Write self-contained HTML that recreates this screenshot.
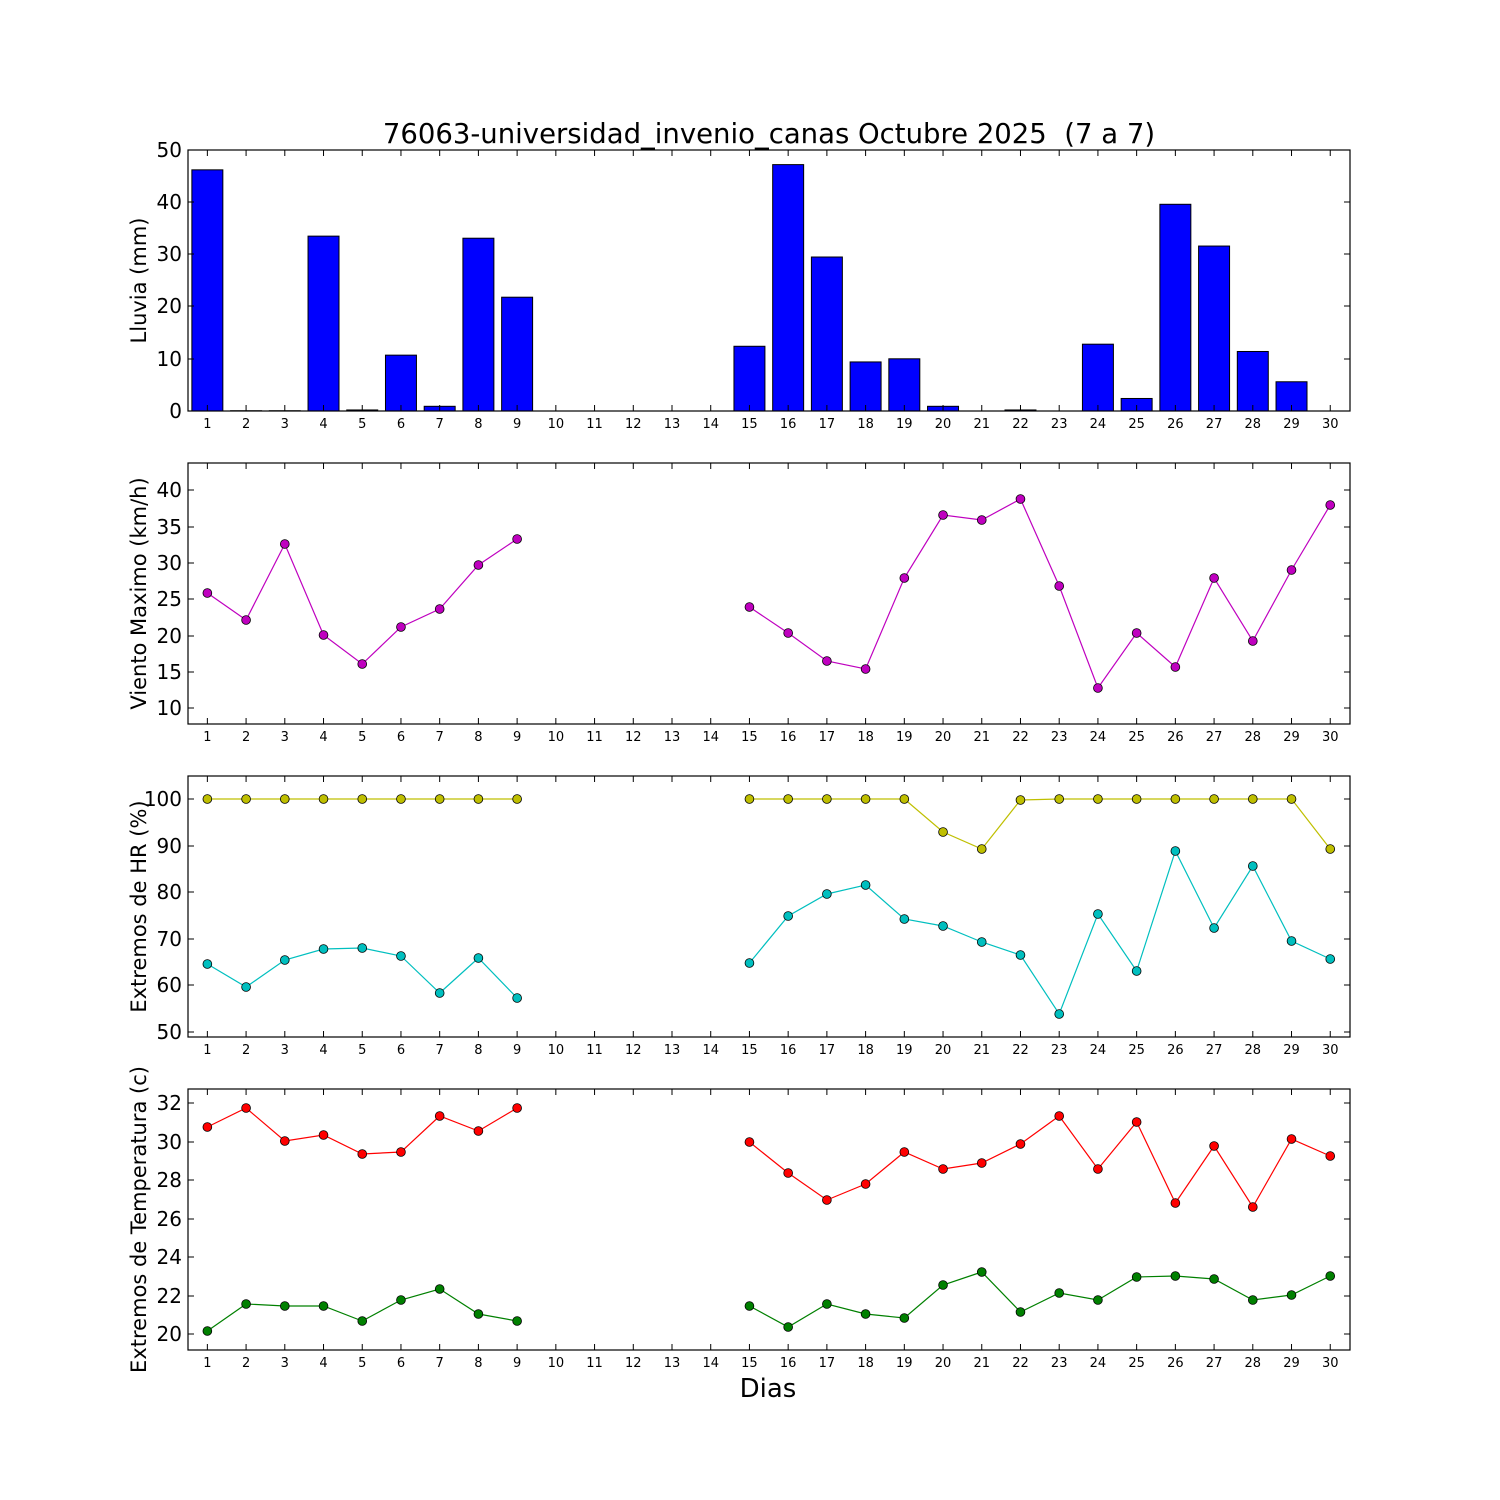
<!DOCTYPE html>
<html><head><meta charset="utf-8"><style>
html,body{margin:0;padding:0;background:#fff;width:1500px;height:1500px;overflow:hidden}
svg{display:block}
text{font-family:"DejaVu Sans","Liberation Sans",sans-serif;fill:#000}
</style></head><body>
<svg id="s" width="1500" height="1500" viewBox="0 0 1500 1500" xmlns="http://www.w3.org/2000/svg">
<text x="769" y="143" font-size="27.5" text-anchor="middle">76063-universidad_invenio_canas Octubre 2025&#160; (7 a 7)</text>
<text x="768" y="1397" font-size="26" text-anchor="middle">Dias</text>
</svg>
<script>
const s=document.getElementById('s');
let h='';
const L=188,R=1350,st=38.72;
const X=d=>188+(d-0.5)*st;
function panel(top,bot,ticks,label){
  for(const [t,y] of ticks){
    h+=`<line x1="${L}" x2="${L+6}" y1="${y}" y2="${y}" stroke="#000"/><line x1="${R-6}" x2="${R}" y1="${y}" y2="${y}" stroke="#000"/>`;
    h+=`<text x="${L-6}" y="${y+7}" font-size="20" text-anchor="end">${t}</text>`;
  }
  for(let d=1;d<=30;d++){const x=X(d);
    h+=`<line x1="${x}" x2="${x}" y1="${bot}" y2="${bot-6}" stroke="#000"/><line x1="${x}" x2="${x}" y1="${top}" y2="${top+6}" stroke="#000"/>`;
    h+=`<text x="${x}" y="${bot+17}" font-size="13" text-anchor="middle">${d}</text>`;}
  const cy=(top+bot)/2;
  h+=`<text transform="translate(146,${cy}) rotate(-90)" font-size="21" text-anchor="middle">${label}</text>`;
}
function box(top,bot){h+=`<rect x="${L}" y="${top}" width="${R-L}" height="${bot-top}" fill="none" stroke="#000" stroke-width="1.2"/>`;}
function series(days,ys,col){
  let segs=[[]];
  days.forEach((d,i)=>{ if(i>0&&d-days[i-1]>1) segs.push([]); segs[segs.length-1].push([X(d),ys[i]]);});
  for(const sg of segs) h+=`<polyline points="${sg.map(p=>p.join(',')).join(' ')}" fill="none" stroke="${col}" stroke-width="1.2"/>`;
  days.forEach((d,i)=>{h+=`<circle cx="${X(d)}" cy="${ys[i]}" r="4.4" fill="${col}" stroke="#000" stroke-width="0.8"/>`;});
}
const D=[1,2,3,4,5,6,7,8,9,15,16,17,18,19,20,21,22,23,24,25,26,27,28,29,30];
const rain=[46.2,0.05,0.05,33.5,0.2,10.7,0.9,33.1,21.8,0,0,0,0,0,12.4,47.2,29.5,9.4,10,0.9,0,0.2,0,12.8,2.4,39.6,31.6,11.4,5.6,0];
rain.forEach((v,i)=>{ if(v<=0)return; const d=i+1,y=411-v*5.22;
  h+=`<rect x="${X(d)-st*0.4}" y="${y}" width="${st*0.8}" height="${411-y}" fill="#0000ff" stroke="#000" stroke-width="1"/>`;});
panel(150,411,[[0,411],[10,359],[20,306],[30,254],[40,202],[50,150]],'Lluvia (mm)');box(150,411);
panel(463,724,[[10,708],[15,672],[20,636],[25,599],[30,563],[35,527],[40,490]],'Viento Maximo (km/h)');
series(D,[593,620,544,635,664,627,609,565,539,607,633,661,669,578,515,520,499,586,688,633,667,578,641,570,505],'#bf00bf');box(463,724);
panel(776,1037,[[50,1032],[60,985],[70,939],[80,892],[90,846],[100,799]],'Extremos de HR (%)');
series(D,[799,799,799,799,799,799,799,799,799,799,799,799,799,799,832,849,800,799,799,799,799,799,799,799,849],'#bfbf00');
series(D,[964,987,960,949,948,956,993,958,998,963,916,894,885,919,926,942,955,1014,914,971,851,928,866,941,959],'#00bfbf');box(776,1037);
panel(1089,1350,[[20,1334],[22,1296],[24,1257],[26,1219],[28,1180],[30,1142],[32,1103]],'Extremos de Temperatura (c)');
series(D,[1127,1108,1141,1135,1154,1152,1116,1131,1108,1142,1173,1200,1184,1152,1169,1163,1144,1116,1169,1122,1203,1146,1207,1139,1156],'#ff0000');
series(D,[1331,1304,1306,1306,1321,1300,1289,1314,1321,1306,1327,1304,1314,1318,1285,1272,1312,1293,1300,1277,1276,1279,1300,1295,1276],'#008000');box(1089,1350);
s.insertAdjacentHTML('beforeend',h);
</script>
</body></html>
